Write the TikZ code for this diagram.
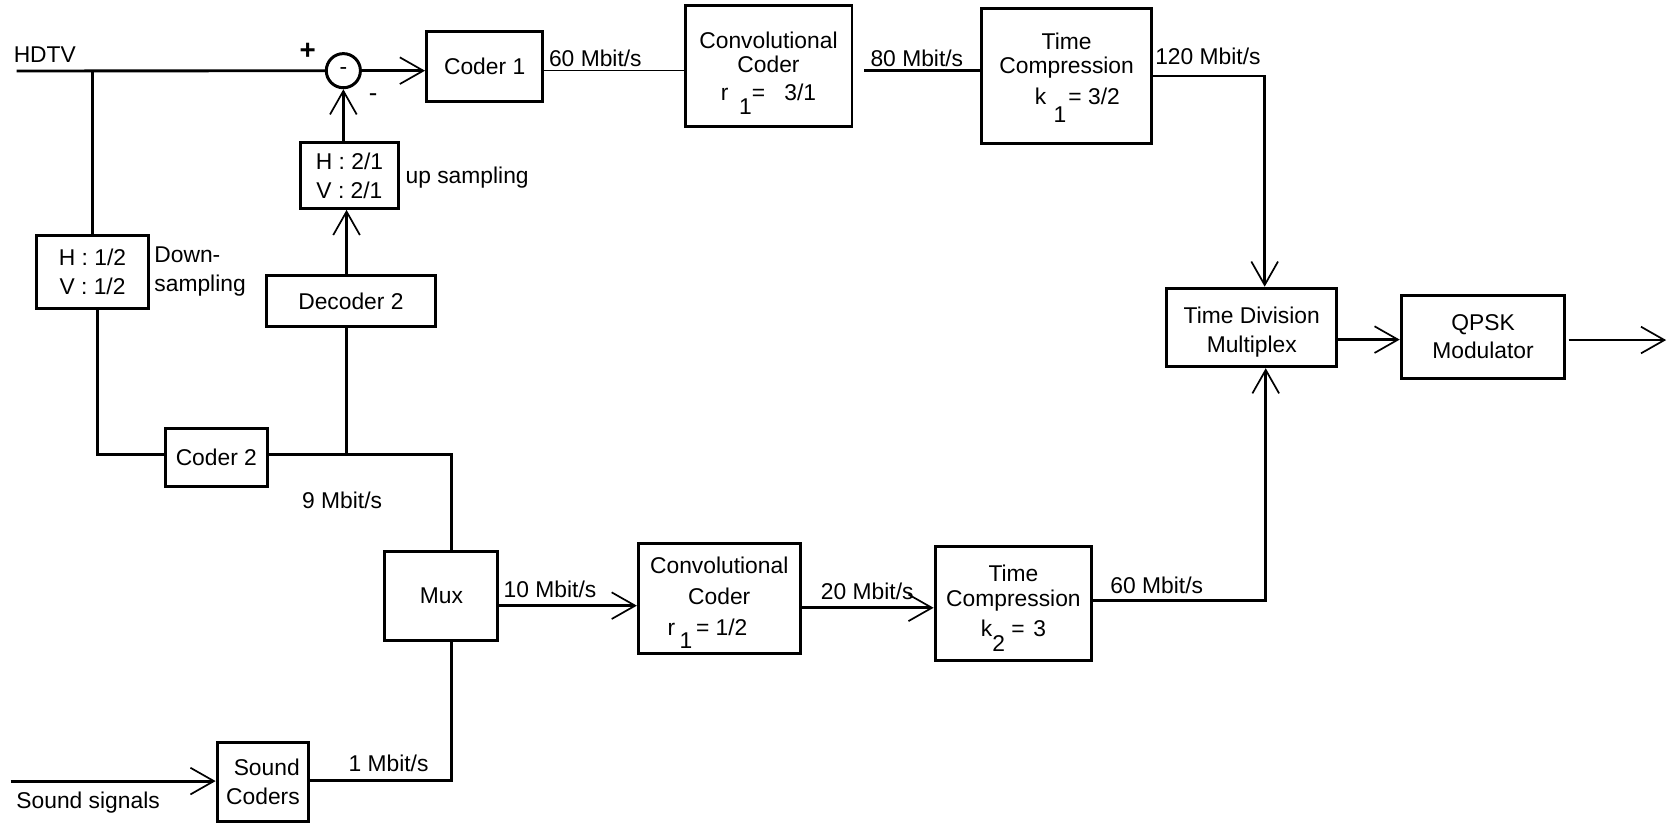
\documentclass[tikz,border=0pt]{standalone}
\usepackage{fontspec}
\setmainfont{Liberation Sans}
\usetikzlibrary{arrows.meta}
\begin{document}
\begin{tikzpicture}[x=0.5pt,y=-0.5pt,
  font=\fontsize{10.7}{13.5}\selectfont,
  box/.style={draw,line width=1.4pt,inner sep=0pt,align=center},
  wire/.style={line width=1.35pt},
  thinwire/.style={line width=0.7pt},
  arr/.style={-{Straight Barb[length=11pt,width=12.5pt,line width=0.8pt]}},
  lbl/.style={inner sep=0pt,anchor=west}]
\useasboundingbox (0,0) rectangle (1568,774);

% boxes
\node[box,minimum width=52.3pt,minimum height=34.3pt] (ds) at (86.75,254.7) {H : 1/2\\V : 1/2};
\node[box,minimum width=54.5pt,minimum height=32.8pt] (c1) at (454.5,62.5) {Coder 1};
\node[box,minimum width=78.3pt,minimum height=56.6pt,font=\fontsize{10.7}{11.5}\selectfont] (cc1) at (720.7,62.2)
  {Convolutional\\Coder\\[1.5pt]r\hspace{5pt}\raisebox{-6.5pt}[0pt][0pt]{1}=\hspace{9pt}3/1};
\node[box,minimum width=79.7pt,minimum height=63.6pt,font=\fontsize{10.7}{11}\selectfont] (tc1) at (1000.3,71.4)
  {Time\\Compression\\[3.85pt]\hspace*{10pt}k\hspace{3.5pt}\raisebox{-8.3pt}[0pt][6.6pt]{1}\hspace{1pt}= 3/2};
\node[box,minimum width=46.3pt,minimum height=30.8pt] (us) at (327.7,164.6) {H : 2/1\\V : 2/1};
\node[box,minimum width=79pt,minimum height=24.25pt] (dec2) at (329.1,282.2) {Decoder 2};
\node[box,minimum width=48.15pt,minimum height=27.15pt] (c2) at (202.9,428.7) {Coder 2};
\node[box,minimum width=53pt,minimum height=42pt] (mux) at (414,559) {Mux};
\node[box,minimum width=43pt,minimum height=37pt,align=right] (sc) at (246.6,733.5) {Sound\\Coders};
\node[box,minimum width=75.85pt,minimum height=51.6pt,font=\fontsize{10.7}{14.7}\selectfont] (cc2) at (674.5,561.1)
  {Convolutional\\Coder\\r\hspace{2pt}\raisebox{-6pt}[0pt][1.9pt]{1}\,= 1/2\kern11pt};
\node[box,minimum width=73.45pt,minimum height=53.15pt,font=\fontsize{10.7}{11.7}\selectfont] (tc2) at (950.4,565.9)
  {Time\\Compression\\[2.4pt]k\raisebox{-6.8pt}[0pt][2.5pt]{2}\hspace{3pt}=\hspace{4pt}3};
\node[box,minimum width=79.85pt,minimum height=36.8pt,font=\fontsize{10.7}{14}\selectfont] (tdm) at (1173.9,307.1)
  {\rule{0pt}{12.1pt}Time Division\\Multiplex};
\node[box,minimum width=76.75pt,minimum height=39.1pt] (qpsk) at (1390.8,315.8) {QPSK\\Modulator};
\node[draw,circle,line width=1.4pt,minimum size=16pt,inner sep=0pt] (circ) at (322,66.3) {-};

% labels
\node[lbl] (lhdtv) at (12.5,51.6) {HDTV};
\node[inner sep=0pt,font=\fontsize{13}{13}\selectfont\bfseries] (lplus) at (288.5,48) {+};
\node[inner sep=0pt,font=\fontsize{12}{12}\selectfont] (lminus) at (350,92) {-};
\node[lbl] (l60a) at (514.5,55) {60 Mbit/s};
\node[lbl] (l80) at (816,54.5) {80 Mbit/s};
\node[lbl] (l120) at (1083,53) {120 Mbit/s};
\node[lbl] (lup) at (380,167) {up sampling};
\node[lbl,align=left] (ldown) at (144.4,255) {Down-\\sampling};
\node[lbl] (l9) at (283,469) {9 Mbit/s};
\node[lbl] (l1) at (326.5,716) {1 Mbit/s};
\node[lbl] (lsound) at (15,753) {Sound signals};
\node[lbl] (l10) at (472,553) {10 Mbit/s};
\node[lbl] (l20) at (769.5,554.5) {20 Mbit/s};
\node[lbl] (l60b) at (1041,548.6) {60 Mbit/s};

% coordinates
\coordinate (hin) at (15.6,66.6);
\coordinate (j1) at (423.5,426);
\coordinate (j2) at (423.5,732);
\coordinate (sin) at (10,732.5);
\coordinate (r2) at (0,568);
\coordinate (r3) at (0,570);
\coordinate (j3) at (1187,563);
\coordinate (j4) at (1186,71.3);
\coordinate (r4) at (0,318.5);
\coordinate (out) at (1562.5,318.9);

% connectors
\draw[wire] (hin) -- (circ.west);
\draw[wire] (ds.north) -- (ds.north |- hin);
\draw[wire,arr] (circ.east) -- (c1.west |- circ.east);
\draw[wire,arr] (us.north -| circ) -- (circ.south);
\draw[wire,arr] ([xshift=1.5pt]dec2.north -| circ) -- ([xshift=1.5pt]us.south -| circ);
\draw[wire] ([xshift=2.4pt]ds.south) -- ([xshift=2.4pt]ds.south |- j1) -- (c2.west |- j1);
\draw[wire] (c2.east |- j1) -- (j1) -- (j1 |- mux.north);
\draw[wire] ([xshift=1.5pt]dec2.south -| circ) -- ([xshift=1.5pt]circ |- j1);
\draw[wire] (sc.east |- j2) -- (j2) -- (j2 |- mux.south);
\draw[wire,arr] (sin) -- (sc.west |- sin);
\draw[wire,arr] (mux.east |- r2) -- (cc2.west |- r2);
\draw[wire,arr] (cc2.east |- r3) -- (tc2.west |- r3);
\draw[wire,arr] (tc2.east |- j3) -- (j3) -- (j3 |- tdm.south);
\draw[thinwire] (c1.east |- circ) -- (cc1.west |- circ);
\draw[wire] ([xshift=5pt]cc1.east |- circ) -- (tc1.west |- circ);
\draw[wire,arr] (tc1.east |- j4) -- (j4) -- (j4 |- tdm.north);
\draw[wire,arr] (tdm.east |- r4) -- (qpsk.west |- r4);
\draw[wire,arr] ([xshift=1pt]qpsk.east |- out) -- (out);
\end{tikzpicture}
\end{document}
